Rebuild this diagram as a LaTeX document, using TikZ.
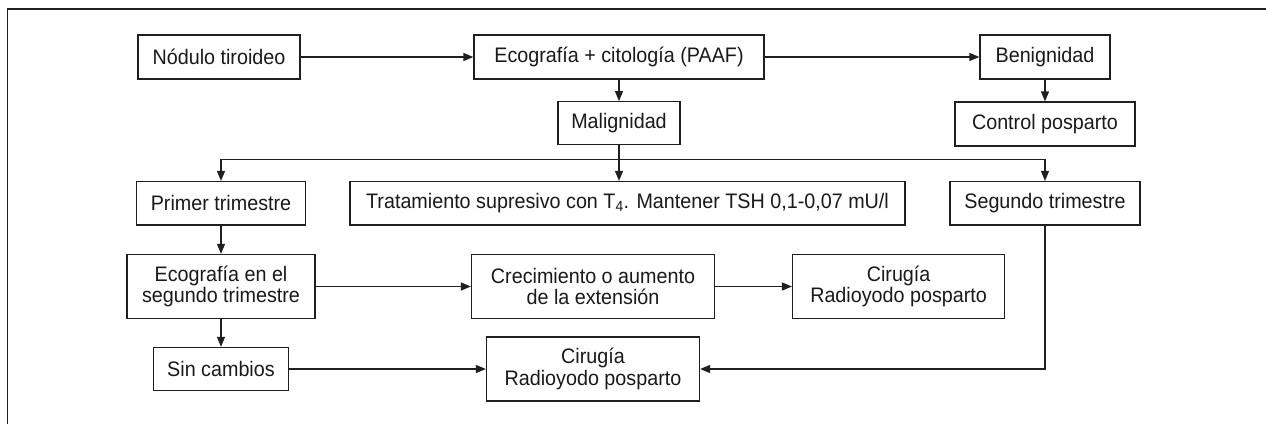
\documentclass[tikz,border=0pt]{standalone}
\usepackage{fontspec}
\setmainfont{Liberation Sans}[FakeStretch=0.94]
\usetikzlibrary{arrows.meta,calc}
\begin{document}
\begin{tikzpicture}[x=1pt,y=-1pt,
  box/.style={draw=black!88,line width=1.3pt,inner sep=0pt,align=center,
    font=\fontsize{21}{21.5}\selectfont,text=black!90},
  arr/.style={draw=black!88,line width=1.3pt,-{Triangle[length=10pt,width=8pt]}},
  ln/.style={draw=black!88,line width=1.3pt}]
\useasboundingbox (0,0) rectangle (1266,424);
\draw[ln] (7.3,424) -- (7.3,9) -- (1266,9);
% row 1
\node[box,minimum width=162pt,minimum height=44pt] (nod) at (219,57) {Nódulo tiroideo};
\node[box,minimum width=290pt,minimum height=44pt] (eco) at (619,57) {Ecografía + citología (PAAF)};
\node[box,minimum width=130pt,minimum height=44pt] (ben) at (1045,57) {Benignidad};
% row 2
\node[box,minimum width=122pt,minimum height=42.5pt] (mal) at (619,123) {Malignidad};
\node[box,minimum width=180pt,minimum height=44pt] (con) at (1045,124) {Control posparto};
% row 3
\node[box,minimum width=169pt,minimum height=43.5pt] (pri) at (221,203.3) {Primer trimestre};
\node[box,minimum width=555pt,minimum height=43.5pt] (tra) at (627.5,203.3) {Tratamiento supresivo con T\textsubscript{4}. Mantener TSH 0,1-0,07 mU/l};
\node[box,minimum width=190pt,minimum height=43.5pt] (seg) at (1045,203.3) {Segundo trimestre};
% row 4
\node[box,minimum width=188pt,minimum height=64pt] (eco2) at (221,286.5) {Ecografía en el\\segundo trimestre};
\node[box,minimum width=243pt,minimum height=64pt] (cre) at (593,286.5) {Crecimiento o aumento\\de la extensión};
\node[box,minimum width=212pt,minimum height=64pt] (cir1) at (898.6,286.5) {Cirugía\\Radioyodo posparto};
% row 5
\node[box,minimum width=135pt,minimum height=43pt] (sin) at (221,369) {Sin cambios};
\node[box,minimum width=213pt,minimum height=64pt] (cir2) at (593,369) {Cirugía\\Radioyodo posparto};
% connectors
\draw[arr] (nod) -- (eco);
\draw[arr] (eco) -- (ben);
\draw[arr] (eco) -- (mal);
\draw[arr] (ben) -- (con);
\path (mal.south) ++(0,14.5) coordinate (j);
\draw[arr] (mal.south) -- (mal.south |- tra.north);
\draw[arr] (j) -| (pri.north);
\draw[arr] (j) -| (seg.north);
\draw[arr] (pri) -- (eco2);
\draw[arr] (eco2) -- (cre);
\draw[arr] (cre) -- (cir1);
\draw[arr] (eco2) -- (sin);
\draw[arr] (sin) -- (cir2);
\draw[arr] (seg.south) |- (cir2.east);
\end{tikzpicture}
\end{document}
